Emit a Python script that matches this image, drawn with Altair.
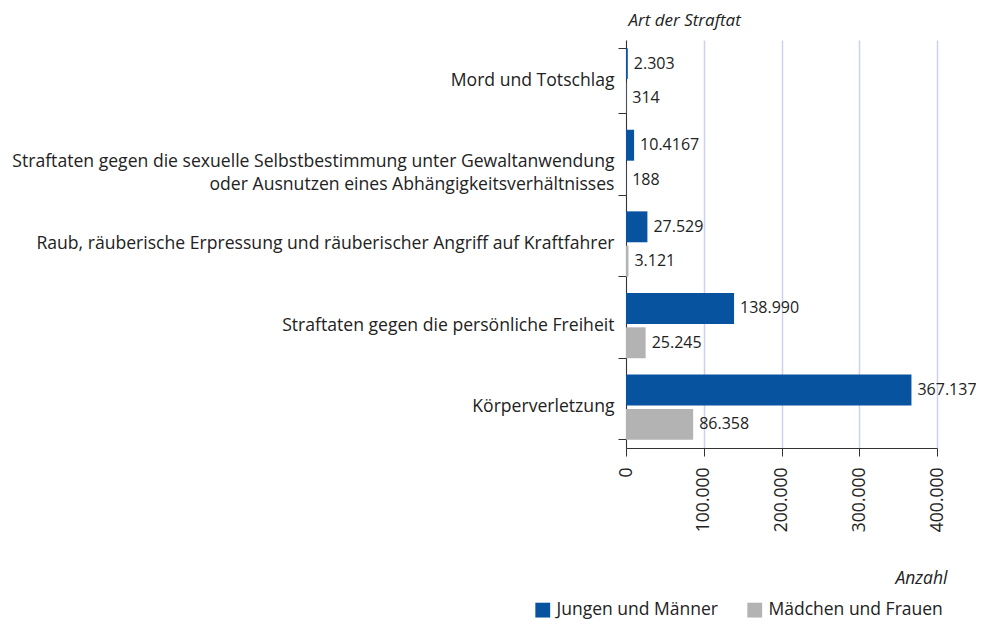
import altair as alt
import pandas as pd

categories = [
    "Mord und Totschlag",
    "Straftaten gegen die sexuelle Selbstbestimmung unter Gewaltanwendung\noder Ausnutzen eines Abhängigkeitsverhältnisses",
    "Raub, räuberische Erpressung und räuberischer Angriff auf Kraftfahrer",
    "Straftaten gegen die persönliche Freiheit",
    "Körperverletzung",
]
series = ["Jungen und Männer", "Mädchen und Frauen"]
male_values = [2303, 10417, 27529, 138990, 367137]
female_values = [314, 188, 3121, 25245, 86358]
male_labels = ["2.303", "10.4167", "27.529", "138.990", "367.137"]
female_labels = ["314", "188", "3.121", "25.245", "86.358"]
colors = ["#0753a0", "#b2b3b2"]
x_ticks = [0, 100000, 200000, 300000, 400000]

rows = []
for i, c in enumerate(categories):
    rows.append({"cat": c, "series": series[0], "value": male_values[i], "label": male_labels[i]})
    rows.append({"cat": c, "series": series[1], "value": female_values[i], "label": female_labels[i]})
df = pd.DataFrame(rows)

FONT = "Open Sans"
FS = 17.5

y_enc = alt.Y(
    "cat:N",
    sort=categories,
    scale=alt.Scale(paddingInner=0.2, paddingOuter=0.1),
    axis=alt.Axis(
        title="Art der Straftat",
        titleAngle=0,
        titleAlign="left",
        titleX=2,
        titleY=-15,
        titleBaseline="alphabetic",
        titleFontStyle="italic",
        titleFontWeight="normal",
        titleFontSize=17,
        titleColor="#222",
        labelExpr="split(datum.label, '\\n')",
        labelFontSize=17.6,
        labelLineHeight=23,
        labelLimit=0,
        labelPadding=4,
        labelColor="#222",
        tickSize=8,
        bandPosition=1,
        tickExtra=True,
        grid=False,
        domainColor="#333",
        tickColor="#333",
    ),
)
yoff_enc = alt.YOffset("series:N", sort=series, scale=alt.Scale(paddingInner=0.1))

x_enc = alt.X(
    "value:Q",
    scale=alt.Scale(domain=[0, 400000], nice=False),
    axis=alt.Axis(
        values=x_ticks,
        labelExpr="replace(format(datum.value, ','), ',', '.')",
        labelAngle=270,
        labelAlign="right",
        labelBaseline="middle",
        labelPadding=11,
        labelFontSize=FS,
        labelColor="#222",
        tickSize=8,
        domainColor="#333",
        tickColor="#333",
        grid=True,
        gridColor="#cdd1f0",
        gridWidth=1.5,
        title="Anzahl",
        titleX=321,
        titleY=135,
        titleAlign="right",
        titleBaseline="alphabetic",
        titleFontStyle="italic",
        titleFontWeight="normal",
        titleFontSize=17.5,
        titleColor="#222",
    ),
)

bars = alt.Chart(df).mark_bar().encode(
    x=x_enc,
    y=y_enc,
    yOffset=yoff_enc,
    color=alt.Color(
        "series:N",
        sort=series,
        scale=alt.Scale(domain=series, range=colors),
        legend=alt.Legend(
            title=None,
            orient="none",
            legendX=-92,
            legendY=561,
            direction="horizontal",
            symbolType="square",
            symbolSize=220,
            symbolStrokeWidth=0,
            labelFontSize=FS,
            labelLimit=0,
            labelColor="#222",
            columnPadding=28,
            labelOffset=5,
        ),
    ),
)

texts = alt.Chart(df).mark_text(
    align="left", baseline="middle", dx=6, fontSize=16, color="#222", font=FONT
).encode(
    x=alt.X("value:Q"),
    y=alt.Y("cat:N", sort=categories),
    yOffset=alt.YOffset("series:N", sort=series),
    text="label:N",
)

chart = (
    alt.layer(bars, texts)
    .properties(
        width=311,
        height=408,
        autosize=alt.AutoSizeParams(type="none"),
        padding={"top": 32, "left": 618, "right": 39, "bottom": 171},
    )
    .configure(font=FONT)
    .configure_view(stroke=None)
)

chart.save("out.html", embed_options={"renderer": "svg", "actions": False})
